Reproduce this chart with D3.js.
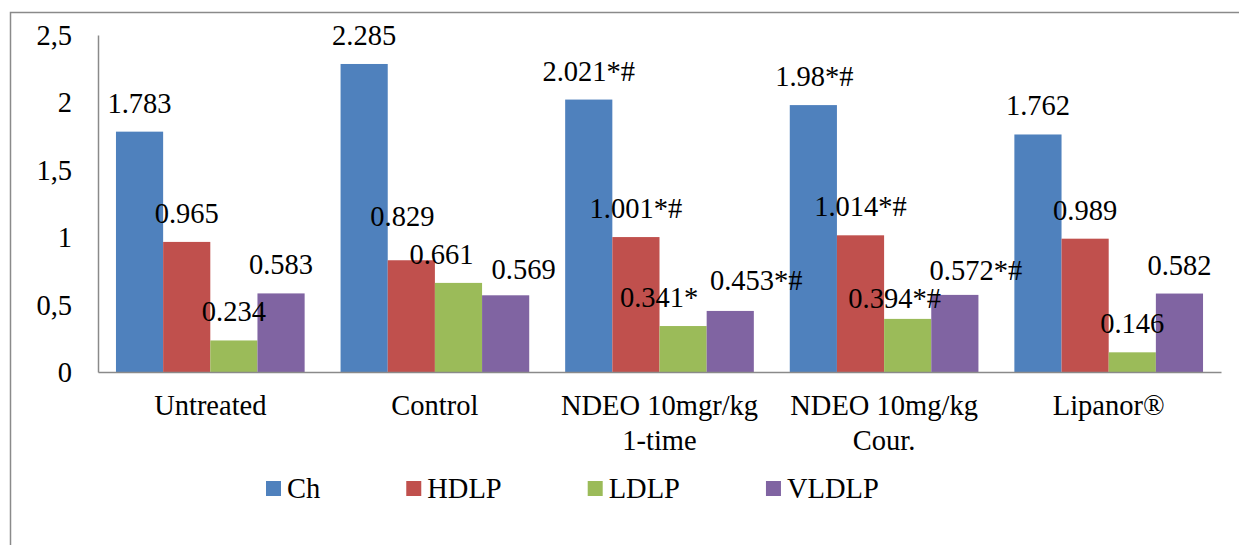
<!DOCTYPE html>
<html><head><meta charset="utf-8">
<script src="https://cdn.jsdelivr.net/npm/d3@7"></script>
<style>
html,body{margin:0;padding:0;background:#fff;}
svg text{font-family:'Liberation Serif','Times New Roman','DejaVu Serif',serif !important;}
</style></head>
<body>
<svg id="chart" width="1239" height="545"></svg>
<script>
const categories = [["Untreated"], ["Control"], ["NDEO 10mgr/kg", "1-time"], ["NDEO 10mg/kg", "Cour."], ["Lipanor®"]];
const seriesNames = ["Ch", "HDLP", "LDLP", "VLDLP"];
const chValues    = [1.783, 2.285, 2.021, 1.98, 1.762];
const hdlpValues  = [0.965, 0.829, 1.001, 1.014, 0.989];
const ldlpValues  = [0.234, 0.661, 0.341, 0.394, 0.146];
const vldlpValues = [0.583, 0.569, 0.453, 0.572, 0.582];
const chLabels    = ["1.783", "2.285", "2.021*#", "1.98*#", "1.762"];
const hdlpLabels  = ["0.965", "0.829", "1.001*#", "1.014*#", "0.989"];
const ldlpLabels  = ["0.234", "0.661", "0.341*", "0.394*#", "0.146"];
const vldlpLabels = ["0.583", "0.569", "0.453*#", "0.572*#", "0.582"];
const yTicks = [0, 0.5, 1, 1.5, 2, 2.5];
const yTickLabels = ["0", "0,5", "1", "1,5", "2", "2,5"];

const colors = ["#4F81BD", "#C0504D", "#9BBB59", "#8064A2"];
// manual label nudges (category index, series index) -> [dx, dy]
const nudges = {"1-1": [-9, -15], "1-2": [-17, 0], "1-3": [18, 3], "2-2": [-24, 0], "2-3": [26, -2], "3-0": [1, 0], "3-2": [-13, 8], "3-3": [21, 4]};

const values = [chValues, hdlpValues, ldlpValues, vldlpValues];
const labels = [chLabels, hdlpLabels, ldlpLabels, vldlpLabels];

const FONT = "'Liberation Serif', 'Times New Roman', 'DejaVu Serif', serif";
const svg = d3.select("#chart").attr("font-family", FONT);
const FS = 28.5;

// frame
svg.append("rect").attr("x", 10.5).attr("y", 12.5).attr("width", 1400).attr("height", 700)
  .attr("fill", "none").attr("stroke", "#8a8a8a").attr("stroke-width", 1.5);

const x0 = d3.scaleBand().domain(d3.range(categories.length)).range([98, 1221]).padding(0);
const x1 = d3.scaleBand().domain(d3.range(seriesNames.length))
  .range([x0.bandwidth() * 0.08, x0.bandwidth() * 0.92]).padding(0);
const y = d3.scaleLinear().domain([0, 2.5]).range([372, 35]);

// y axis
const yAxis = d3.axisLeft(y).tickValues(yTicks).tickFormat((d, i) => yTickLabels[i]).tickSize(0).tickPadding(26);
const gy = svg.append("g").attr("transform", "translate(98,0)").call(yAxis).attr("font-family", FONT);
gy.select(".domain").attr("stroke", "#8a8a8a").attr("stroke-width", 1.5);
gy.selectAll("text").attr("font-size", FS).attr("font-family", FONT).attr("fill", "#000").attr("dy", "0.33em");

// bars
const groups = svg.append("g").selectAll("g").data(categories).join("g")
  .attr("transform", (d, i) => `translate(${x0(i)},0)`);
groups.each(function(cat, ci) {
  const g = d3.select(this);
  seriesNames.forEach((s, si) => {
    const v = values[si][ci];
    g.append("rect").attr("x", x1(si)).attr("width", x1.bandwidth())
      .attr("y", y(v)).attr("height", y(0) - y(v)).attr("fill", colors[si]);
  });
});

// x axis
const xAxis = d3.axisBottom(x0).tickSize(0).tickFormat(() => "");
const gx = svg.append("g").attr("transform", "translate(0,372)").call(xAxis).attr("font-family", FONT);
gx.select(".domain").attr("stroke", "#8a8a8a").attr("stroke-width", 1.5);
gx.selectAll(".tick").each(function(d) {
  const t = d3.select(this).select("text").attr("y", 0).attr("dy", 0)
    .attr("font-size", FS).attr("font-family", FONT).attr("fill", "#000");
  t.text(null);
  categories[d].forEach((line, li) => {
    t.append("tspan").attr("x", 0).attr("y", 43 + li * 35).text(line);
  });
});

// data labels (top layer)
const labelLayer = svg.append("g");
categories.forEach((cat, ci) => {
  seriesNames.forEach((s, si) => {
    const v = values[si][ci];
    const n = nudges[ci + "-" + si] || [0, 0];
    labelLayer.append("text").attr("x", x0(ci) + x1(si) + x1.bandwidth() / 2 + n[0]).attr("y", y(v) - 19 + n[1])
      .attr("text-anchor", "middle").attr("font-size", FS).attr("font-family", FONT).attr("fill", "#000").text(labels[si][ci]);
  });
});

// legend
const legend = svg.append("g").attr("transform", "translate(266,0)");
let lx = 0;
seriesNames.forEach((s, si) => {
  const item = legend.append("g").attr("transform", `translate(${lx},0)`);
  item.append("rect").attr("x", 0).attr("y", 481).attr("width", 15).attr("height", 15).attr("fill", colors[si]);
  const t = item.append("text").attr("x", 21).attr("y", 497.7).attr("font-size", FS).attr("font-family", FONT).attr("fill", "#000").text(s);
  lx += 21 + t.node().getComputedTextLength() + 86;
});
</script>
</body></html>
